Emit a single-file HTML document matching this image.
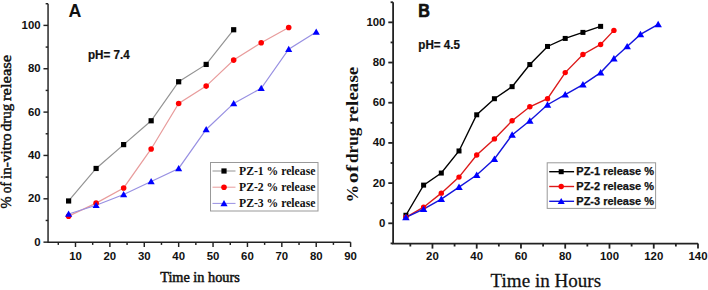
<!DOCTYPE html>
<html><head><meta charset="utf-8"><style>
html,body{margin:0;padding:0;background:#fff;}
body{width:708px;height:290px;overflow:hidden;}
svg{display:block;}
</style></head><body>
<svg width="708" height="290" viewBox="0 0 708 290">
<rect width="708" height="290" fill="#fff"/>
<g stroke="#222" stroke-width="1.45" fill="none">
<path d="M48.05 3.72V242.2H350.61"/>
<path d="M43.45 242.15H48.05"/>
<path d="M45.65 220.47H48.05"/>
<path d="M43.45 198.8H48.05"/>
<path d="M45.65 177.12H48.05"/>
<path d="M43.45 155.45H48.05"/>
<path d="M45.65 133.78H48.05"/>
<path d="M43.45 112.1H48.05"/>
<path d="M45.65 90.43H48.05"/>
<path d="M43.45 68.75H48.05"/>
<path d="M45.65 47.08H48.05"/>
<path d="M43.45 25.4H48.05"/>
<path d="M45.65 3.72H48.05"/>
<path d="M58.3 242.2V244.9"/>
<path d="M75.49 242.2V247"/>
<path d="M92.69 242.2V244.9"/>
<path d="M109.88 242.2V247"/>
<path d="M127.07 242.2V244.9"/>
<path d="M144.27 242.2V247"/>
<path d="M161.47 242.2V244.9"/>
<path d="M178.66 242.2V247"/>
<path d="M195.85 242.2V244.9"/>
<path d="M213.05 242.2V247"/>
<path d="M230.25 242.2V244.9"/>
<path d="M247.44 242.2V247"/>
<path d="M264.63 242.2V244.9"/>
<path d="M281.83 242.2V247"/>
<path d="M299.03 242.2V244.9"/>
<path d="M316.22 242.2V247"/>
<path d="M333.42 242.2V244.9"/>
<path d="M350.61 242.2V247"/>
</g>
<g font-family="Liberation Sans, sans-serif" font-weight="bold" font-size="11.4" fill="#111">
<text x="40.6" y="245.55" text-anchor="end">0</text>
<text x="40.6" y="202.2" text-anchor="end">20</text>
<text x="40.6" y="158.85" text-anchor="end">40</text>
<text x="40.6" y="115.5" text-anchor="end">60</text>
<text x="40.6" y="72.15" text-anchor="end">80</text>
<text x="40.6" y="28.8" text-anchor="end">100</text>
<text x="75.49" y="259.5" text-anchor="middle">10</text>
<text x="109.88" y="259.5" text-anchor="middle">20</text>
<text x="144.27" y="259.5" text-anchor="middle">30</text>
<text x="178.66" y="259.5" text-anchor="middle">40</text>
<text x="213.05" y="259.5" text-anchor="middle">50</text>
<text x="247.44" y="259.5" text-anchor="middle">60</text>
<text x="281.83" y="259.5" text-anchor="middle">70</text>
<text x="316.22" y="259.5" text-anchor="middle">80</text>
<text x="350.61" y="259.5" text-anchor="middle">90</text>
</g>
<polyline points="68.61,200.97 96.12,168.46 123.64,144.61 151.15,120.77 178.66,81.75 206.17,64.42 233.68,29.74" fill="none" stroke="#939393" stroke-width="1.2"/>
<polyline points="68.61,216.14 96.12,203.13 123.64,187.96 151.15,148.95 178.66,103.43 206.17,86.09 233.68,60.08 261.2,42.74 288.71,27.57" fill="none" stroke="#e89c9c" stroke-width="1.2"/>
<polyline points="68.61,213.97 96.12,205.3 123.64,194.47 151.15,181.46 178.66,168.46 206.17,129.44 233.68,103.43 261.2,88.26 288.71,49.24 316.22,31.9" fill="none" stroke="#9890e2" stroke-width="1.2"/>
<rect x="66.01" y="198.37" width="5.2" height="5.2" fill="#000"/>
<rect x="93.52" y="165.86" width="5.2" height="5.2" fill="#000"/>
<rect x="121.04" y="142.01" width="5.2" height="5.2" fill="#000"/>
<rect x="148.55" y="118.17" width="5.2" height="5.2" fill="#000"/>
<rect x="176.06" y="79.16" width="5.2" height="5.2" fill="#000"/>
<rect x="203.57" y="61.82" width="5.2" height="5.2" fill="#000"/>
<rect x="231.08" y="27.14" width="5.2" height="5.2" fill="#000"/>
<circle cx="68.61" cy="216.14" r="2.8" fill="#f00"/>
<circle cx="96.12" cy="203.13" r="2.8" fill="#f00"/>
<circle cx="123.64" cy="187.96" r="2.8" fill="#f00"/>
<circle cx="151.15" cy="148.95" r="2.8" fill="#f00"/>
<circle cx="178.66" cy="103.43" r="2.8" fill="#f00"/>
<circle cx="206.17" cy="86.09" r="2.8" fill="#f00"/>
<circle cx="233.68" cy="60.08" r="2.8" fill="#f00"/>
<circle cx="261.2" cy="42.74" r="2.8" fill="#f00"/>
<circle cx="288.71" cy="27.57" r="2.8" fill="#f00"/>
<path d="M68.61 210.56L72.19 216.73L65.04 216.73Z" fill="#00f"/>
<path d="M96.12 201.89L99.7 208.06L92.55 208.06Z" fill="#00f"/>
<path d="M123.64 191.05L127.21 197.23L120.06 197.23Z" fill="#00f"/>
<path d="M151.15 178.05L154.72 184.22L147.57 184.22Z" fill="#00f"/>
<path d="M178.66 165.04L182.23 171.22L175.09 171.22Z" fill="#00f"/>
<path d="M206.17 126.03L209.75 132.2L202.6 132.2Z" fill="#00f"/>
<path d="M233.68 100.02L237.26 106.19L230.11 106.19Z" fill="#00f"/>
<path d="M261.2 84.84L264.77 91.02L257.62 91.02Z" fill="#00f"/>
<path d="M288.71 45.83L292.28 52.01L285.13 52.01Z" fill="#00f"/>
<path d="M316.22 28.49L319.8 34.67L312.65 34.67Z" fill="#00f"/>
<rect x="210.5" y="162.5" width="107.5" height="48.5" fill="#fff" stroke="#999" stroke-width="1"/>
<path d="M212.5 171H235.5" stroke="#939393" stroke-width="1"/>
<rect x="221.4" y="168.4" width="5.2" height="5.2" fill="#000"/>
<path d="M212.5 187.2H235.5" stroke="#e89c9c" stroke-width="1"/>
<circle cx="224" cy="187.2" r="2.8" fill="#f00"/>
<path d="M212.5 203.4H235.5" stroke="#9890e2" stroke-width="1"/>
<path d="M224 199.99L227.57 206.16L220.43 206.16Z" fill="#00f"/>
<g font-family="Liberation Serif, serif" font-weight="bold" font-size="11.7" fill="#111">
<text x="239" y="175">PZ-1 % release</text>
<text x="239" y="191.2">PZ-2 % release</text>
<text x="239" y="207.4">PZ-3 % release</text>
</g>
<text transform="translate(88,59.2) scale(0.93,1)" font-family="Liberation Sans, sans-serif" font-weight="bold" font-size="12.5" fill="#111" stroke="#111" stroke-width="0.25">pH= 7.4</text>
<text transform="translate(68.4,16.6) scale(1,1)" font-family="Liberation Sans, sans-serif" font-weight="bold" font-size="17.8" fill="#111">A</text>
<g font-family="Liberation Serif, serif" font-size="14.5" fill="#111" stroke="#111" stroke-width="0.45">
<text transform="translate(11.2,208.4) rotate(-90) scale(1.0,1)">%</text>
<text transform="translate(11.2,193.2) rotate(-90) scale(0.92,1)">of</text>
<text transform="translate(11.2,179.0) rotate(-90) scale(1.05,1)">in-vitro</text>
<text transform="translate(11.2,131.2) rotate(-90) scale(1.03,1)">drug</text>
<text transform="translate(11.2,101.0) rotate(-90) scale(1.15,1)">release</text>
</g>
<text transform="translate(160.2,282.2) scale(1.02,1)" font-family="Liberation Serif, serif" font-size="14" fill="#111" stroke="#111" stroke-width="0.5">Time in hours</text>
<g stroke="#222" stroke-width="1.8" fill="none">
<path d="M393.1 2.25V243.6H697.99"/>
<path d="M390.6 243.4H393.1"/>
<path d="M388.3 223.3H393.1"/>
<path d="M390.6 203.21H393.1"/>
<path d="M388.3 183.11H393.1"/>
<path d="M390.6 163.02H393.1"/>
<path d="M388.3 142.92H393.1"/>
<path d="M390.6 122.83H393.1"/>
<path d="M388.3 102.73H393.1"/>
<path d="M390.6 82.64H393.1"/>
<path d="M388.3 62.54H393.1"/>
<path d="M390.6 42.44H393.1"/>
<path d="M388.3 22.35H393.1"/>
<path d="M390.6 2.25H393.1"/>
<path d="M410.33 243.6V246.5"/>
<path d="M432.46 243.6V248.6"/>
<path d="M454.58 243.6V246.5"/>
<path d="M476.71 243.6V248.6"/>
<path d="M498.84 243.6V246.5"/>
<path d="M520.97 243.6V248.6"/>
<path d="M543.1 243.6V246.5"/>
<path d="M565.22 243.6V248.6"/>
<path d="M587.35 243.6V246.5"/>
<path d="M609.48 243.6V248.6"/>
<path d="M631.61 243.6V246.5"/>
<path d="M653.74 243.6V248.6"/>
<path d="M675.86 243.6V246.5"/>
<path d="M697.99 243.6V248.6"/>
</g>
<g font-family="Liberation Sans, sans-serif" font-weight="bold" font-size="11.4" fill="#111">
<text x="385.4" y="226.7" text-anchor="end">0</text>
<text x="385.4" y="186.51" text-anchor="end">20</text>
<text x="385.4" y="146.32" text-anchor="end">40</text>
<text x="385.4" y="106.13" text-anchor="end">60</text>
<text x="385.4" y="65.94" text-anchor="end">80</text>
<text x="385.4" y="25.75" text-anchor="end">100</text>
<text x="432.46" y="260.3" text-anchor="middle">20</text>
<text x="476.71" y="260.3" text-anchor="middle">40</text>
<text x="520.97" y="260.3" text-anchor="middle">60</text>
<text x="565.22" y="260.3" text-anchor="middle">80</text>
<text x="609.48" y="260.3" text-anchor="middle">100</text>
<text x="653.74" y="260.3" text-anchor="middle">120</text>
<text x="697.99" y="260.3" text-anchor="middle">140</text>
</g>
<polyline points="405.9,215.26 423.6,185.12 441.31,173.06 459.01,150.96 476.71,114.79 494.41,98.71 512.12,86.65 529.82,64.55 547.52,46.46 565.22,38.43 582.93,32.4 600.63,26.37" fill="none" stroke="#000" stroke-width="1.4"/>
<polyline points="405.9,217.27 423.6,207.22 441.31,193.16 459.01,177.08 476.71,154.98 494.41,138.9 512.12,120.82 529.82,106.75 547.52,98.71 565.22,72.59 582.93,54.5 600.63,44.45 613.91,30.39" fill="none" stroke="#dc1a1a" stroke-width="1.4"/>
<polyline points="405.9,217.27 423.6,209.23 441.31,199.19 459.01,187.13 476.71,175.07 494.41,159 512.12,134.88 529.82,120.82 547.52,104.74 565.22,94.69 582.93,84.64 600.63,72.59 613.91,58.52 627.18,46.46 640.46,34.41 658.16,24.36" fill="none" stroke="#1414dc" stroke-width="1.4"/>
<rect x="403.4" y="212.76" width="5" height="5" fill="#000"/>
<rect x="421.1" y="182.62" width="5" height="5" fill="#000"/>
<rect x="438.81" y="170.56" width="5" height="5" fill="#000"/>
<rect x="456.51" y="148.46" width="5" height="5" fill="#000"/>
<rect x="474.21" y="112.29" width="5" height="5" fill="#000"/>
<rect x="491.91" y="96.21" width="5" height="5" fill="#000"/>
<rect x="509.62" y="84.15" width="5" height="5" fill="#000"/>
<rect x="527.32" y="62.05" width="5" height="5" fill="#000"/>
<rect x="545.02" y="43.96" width="5" height="5" fill="#000"/>
<rect x="562.72" y="35.93" width="5" height="5" fill="#000"/>
<rect x="580.43" y="29.9" width="5" height="5" fill="#000"/>
<rect x="598.13" y="23.87" width="5" height="5" fill="#000"/>
<circle cx="405.9" cy="217.27" r="2.7" fill="#f00"/>
<circle cx="423.6" cy="207.22" r="2.7" fill="#f00"/>
<circle cx="441.31" cy="193.16" r="2.7" fill="#f00"/>
<circle cx="459.01" cy="177.08" r="2.7" fill="#f00"/>
<circle cx="476.71" cy="154.98" r="2.7" fill="#f00"/>
<circle cx="494.41" cy="138.9" r="2.7" fill="#f00"/>
<circle cx="512.12" cy="120.82" r="2.7" fill="#f00"/>
<circle cx="529.82" cy="106.75" r="2.7" fill="#f00"/>
<circle cx="547.52" cy="98.71" r="2.7" fill="#f00"/>
<circle cx="565.22" cy="72.59" r="2.7" fill="#f00"/>
<circle cx="582.93" cy="54.5" r="2.7" fill="#f00"/>
<circle cx="600.63" cy="44.45" r="2.7" fill="#f00"/>
<circle cx="613.91" cy="30.39" r="2.7" fill="#f00"/>
<path d="M405.9 213.7L409.64 220.16L402.16 220.16Z" fill="#00f"/>
<path d="M423.6 205.66L427.34 212.12L419.86 212.12Z" fill="#00f"/>
<path d="M441.31 195.62L445.05 202.08L437.57 202.08Z" fill="#00f"/>
<path d="M459.01 183.56L462.75 190.02L455.27 190.02Z" fill="#00f"/>
<path d="M476.71 171.5L480.45 177.96L472.97 177.96Z" fill="#00f"/>
<path d="M494.41 155.43L498.15 161.89L490.67 161.89Z" fill="#00f"/>
<path d="M512.12 131.31L515.86 137.77L508.38 137.77Z" fill="#00f"/>
<path d="M529.82 117.25L533.56 123.71L526.08 123.71Z" fill="#00f"/>
<path d="M547.52 101.17L551.26 107.63L543.78 107.63Z" fill="#00f"/>
<path d="M565.22 91.12L568.96 97.58L561.48 97.58Z" fill="#00f"/>
<path d="M582.93 81.07L586.67 87.53L579.19 87.53Z" fill="#00f"/>
<path d="M600.63 69.02L604.37 75.48L596.89 75.48Z" fill="#00f"/>
<path d="M613.91 54.95L617.65 61.41L610.17 61.41Z" fill="#00f"/>
<path d="M627.18 42.89L630.92 49.35L623.44 49.35Z" fill="#00f"/>
<path d="M640.46 30.84L644.2 37.3L636.72 37.3Z" fill="#00f"/>
<path d="M658.16 20.79L661.9 27.25L654.42 27.25Z" fill="#00f"/>
<rect x="547.2" y="162.8" width="108.4" height="45.6" fill="#fff" stroke="#999" stroke-width="1"/>
<path d="M549.2 171.7H574.1" stroke="#000" stroke-width="1.4"/>
<rect x="558.7" y="169.2" width="5" height="5" fill="#000"/>
<path d="M549.2 186.5H574.1" stroke="#dc1a1a" stroke-width="1.4"/>
<circle cx="561.2" cy="186.5" r="2.7" fill="#f00"/>
<path d="M549.2 201.3H574.1" stroke="#1414dc" stroke-width="1.4"/>
<path d="M561.2 197.94L564.72 204.02L557.68 204.02Z" fill="#00f"/>
<g font-family="Liberation Sans, sans-serif" font-weight="bold" font-size="11" fill="#111" stroke="#111" stroke-width="0.25">
<text x="576.3" y="175.2">PZ-1 release %</text>
<text x="576.3" y="190">PZ-2 release %</text>
<text x="576.3" y="204.8">PZ-3 release %</text>
</g>
<text transform="translate(418.3,49.2) scale(0.93,1)" font-family="Liberation Sans, sans-serif" font-weight="bold" font-size="12.5" fill="#111" stroke="#111" stroke-width="0.25">pH= 4.5</text>
<text transform="translate(418.2,16.5) scale(0.92,1)" font-family="Liberation Sans, sans-serif" font-weight="bold" font-size="17.5" fill="#111" stroke="#111" stroke-width="0.7">B</text>
<g font-family="Liberation Serif, serif" font-weight="bold" font-size="16.8" fill="#111">
<text transform="translate(358.2,202.4) rotate(-90) scale(1.05,1)">%</text>
<text transform="translate(358.2,183.2) rotate(-90) scale(1.3,1)">of</text>
<text transform="translate(358.2,162.9) rotate(-90) scale(1.02,1)">drug</text>
<text transform="translate(358.2,122.5) rotate(-90) scale(1.136,1)">release</text>
</g>
<text transform="translate(490.6,287.4) scale(1.06,1)" font-family="Liberation Serif, serif" font-size="18" fill="#111" stroke="#111" stroke-width="0.25">Time in Hours</text>
</svg>
</body></html>
